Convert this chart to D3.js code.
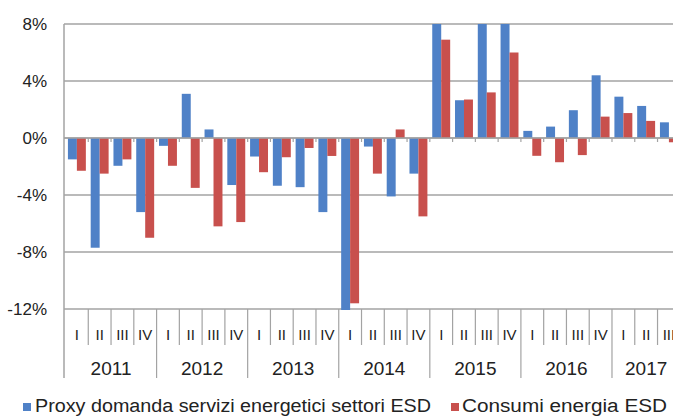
<!DOCTYPE html>
<html>
<head>
<meta charset="utf-8">
<script src="https://cdn.jsdelivr.net/npm/d3@7"></script>
<style>
  html, body { margin: 0; padding: 0; background: #fff; overflow: hidden; }
  svg { display: block; font-family: "Liberation Sans", Arial, sans-serif; }
</style>
</head>
<body>
<div id="chart"></div>
<script>
// years and the quarters shown for each (the last year is partial)
var years = ["2011", "2012", "2013", "2014", "2015", "2016", "2017"];
var quarterNames = ["I", "II", "III", "IV"];
var quartersPerYear = [4, 4, 4, 4, 4, 4, 3];

var seriesNames = ["Proxy domanda servizi energetici settori ESD", "Consumi energia ESD"];
var seriesColors = ["#4f81c7", "#c8504d"];

// % change
var proxyValues = [
  -1.5, -7.7, -1.95, -5.2,
  -0.55, 3.1, 0.6, -3.3,
  -1.3, -3.35, -3.45, -5.2,
  -12.1, -0.6, -4.1, -2.5,
  9.5, 2.65, 10.5, 9.5,
  0.5, 0.8, 1.95, 4.4,
  2.9, 2.25, 1.1
];
var consumiValues = [
  -2.3, -2.5, -1.5, -7.0,
  -1.95, -3.5, -6.2, -5.9,
  -2.4, -1.35, -0.7, -1.26,
  -11.6, -2.5, 0.6, -5.5,
  6.9, 2.7, 3.2, 6.0,
  -1.25, -1.7, -1.2, 1.5,
  1.75, 1.2, -0.3
];
var yTicks = [8, 4, 0, -4, -8, -12];

var width = 673, height = 417;

// build the quarter list from the arrays above
var quarters = [];
years.forEach(function(y, yi){
  for (var q = 0; q < quartersPerYear[yi]; q++){
    quarters.push({ key: y + "-" + quarterNames[q], year: y, q: quarterNames[q] });
  }
});
quarters.forEach(function(d, i){
  d.values = [proxyValues[i], consumiValues[i]];
});

var svg = d3.select("#chart").append("svg")
  .attr("width", width)
  .attr("height", height);

var x = d3.scaleBand()
  .domain(quarters.map(function(d){ return d.key; }))
  .range([65.5, 680.3])
  .padding(0);

var xInner = d3.scaleBand()
  .domain([0, 1])
  .range([0, x.bandwidth()])
  .paddingInner(0)
  .paddingOuter(0.27);

var y = d3.scaleLinear().domain([-12, 8]).range([309, 24]);

var plotLeft = 64, plotRight = 690;
var gridColor = "#a3a3a3";
var textColor = "#222";

// gridlines
svg.append("g").selectAll("line")
  .data(yTicks)
  .enter().append("line")
    .attr("x1", plotLeft)
    .attr("x2", plotRight)
    .attr("y1", function(d){ return y(d); })
    .attr("y2", function(d){ return y(d); })
    .attr("stroke", gridColor)
    .attr("stroke-width", 1.5);

// y labels
svg.append("g").selectAll("text")
  .data(yTicks)
  .enter().append("text")
    .attr("x", 47)
    .attr("y", function(d){ return y(d); })
    .attr("dy", "0.35em")
    .attr("text-anchor", "end")
    .style("font-size", "17px")
    .style("fill", textColor)
    .text(function(d){ return d + "%"; });

// bars, clipped to the plot area
svg.append("clipPath").attr("id", "plotClip")
  .append("rect")
    .attr("x", plotLeft)
    .attr("y", y(8))
    .attr("width", plotRight - plotLeft)
    .attr("height", y(-12) - y(8) + 1);

var groups = svg.append("g")
  .attr("clip-path", "url(#plotClip)")
  .selectAll("g")
  .data(quarters)
  .enter().append("g")
    .attr("transform", function(d){ return "translate(" + x(d.key) + ",0)"; });

groups.selectAll("rect")
  .data(function(d){ return d.values; })
  .enter().append("rect")
    .attr("x", function(d, i){ return xInner(i); })
    .attr("width", xInner.bandwidth())
    .attr("y", function(d){ return y(Math.max(0, d)); })
    .attr("height", function(d){ return Math.abs(y(d) - y(0)); })
    .attr("fill", function(d, i){ return seriesColors[i]; });

// zero axis with small ticks between quarters
svg.append("line")
  .attr("x1", plotLeft).attr("x2", plotRight)
  .attr("y1", y(0)).attr("y2", y(0))
  .attr("stroke", gridColor).attr("stroke-width", 1.5);

svg.append("g").selectAll("line")
  .data(quarters)
  .enter().append("line")
    .attr("x1", function(d){ return x(d.key) + x.bandwidth(); })
    .attr("x2", function(d){ return x(d.key) + x.bandwidth(); })
    .attr("y1", y(0))
    .attr("y2", y(0) + 4)
    .attr("stroke", gridColor)
    .attr("stroke-width", 1.2);

// y axis line, running down through the category labels
svg.append("line")
  .attr("x1", plotLeft).attr("x2", plotLeft)
  .attr("y1", y(8)).attr("y2", 378)
  .attr("stroke", gridColor).attr("stroke-width", 1.5);

// quarter separators and labels
var qSep = quarters.filter(function(d){ return d.q !== "IV"; });
svg.append("g").selectAll("line")
  .data(qSep)
  .enter().append("line")
    .attr("x1", function(d){ return x(d.key) + x.bandwidth(); })
    .attr("x2", function(d){ return x(d.key) + x.bandwidth(); })
    .attr("y1", y(-12))
    .attr("y2", 345)
    .attr("stroke", gridColor)
    .attr("stroke-width", 1.2);

svg.append("g").selectAll("text")
  .data(quarters)
  .enter().append("text")
    .attr("x", function(d){ return x(d.key) + x.bandwidth() / 2; })
    .attr("y", 340)
    .attr("text-anchor", "middle")
    .style("font-size", "15px")
    .style("fill", textColor)
    .text(function(d){ return d.q; });

// year separators and labels
var yearEnds = quarters.filter(function(d){ return d.q === "IV"; });
svg.append("g").selectAll("line")
  .data(yearEnds)
  .enter().append("line")
    .attr("x1", function(d){ return x(d.key) + x.bandwidth(); })
    .attr("x2", function(d){ return x(d.key) + x.bandwidth(); })
    .attr("y1", y(-12))
    .attr("y2", 378)
    .attr("stroke", gridColor)
    .attr("stroke-width", 1.2);

svg.append("g").selectAll("text")
  .data(years)
  .enter().append("text")
    .attr("x", function(d, i){
      // centre of the quarters that belong to this year
      return x(d + "-I") + quartersPerYear[i] * x.step() / 2;
    })
    .attr("y", 375)
    .attr("text-anchor", "middle")
    .style("font-size", "19px")
    .style("fill", textColor)
    .text(function(d){ return d; });

// legend
var legendX = [23, 451];
var legendWidths = [396, 205];
var legend = svg.append("g").selectAll("g")
  .data(seriesNames)
  .enter().append("g")
    .attr("transform", function(d, i){ return "translate(" + legendX[i] + ",403)"; });

legend.append("rect")
  .attr("width", 8).attr("height", 8)
  .attr("fill", function(d, i){ return seriesColors[i]; });

legend.append("text")
  .attr("x", function(d, i){ return i === 0 ? 12 : 11; })
  .attr("y", 8.5)
  .attr("textLength", function(d, i){ return legendWidths[i]; })
  .attr("lengthAdjust", "spacingAndGlyphs")
  .style("font-size", "18px")
  .style("fill", textColor)
  .text(function(d){ return d; });
</script>
</body>
</html>
